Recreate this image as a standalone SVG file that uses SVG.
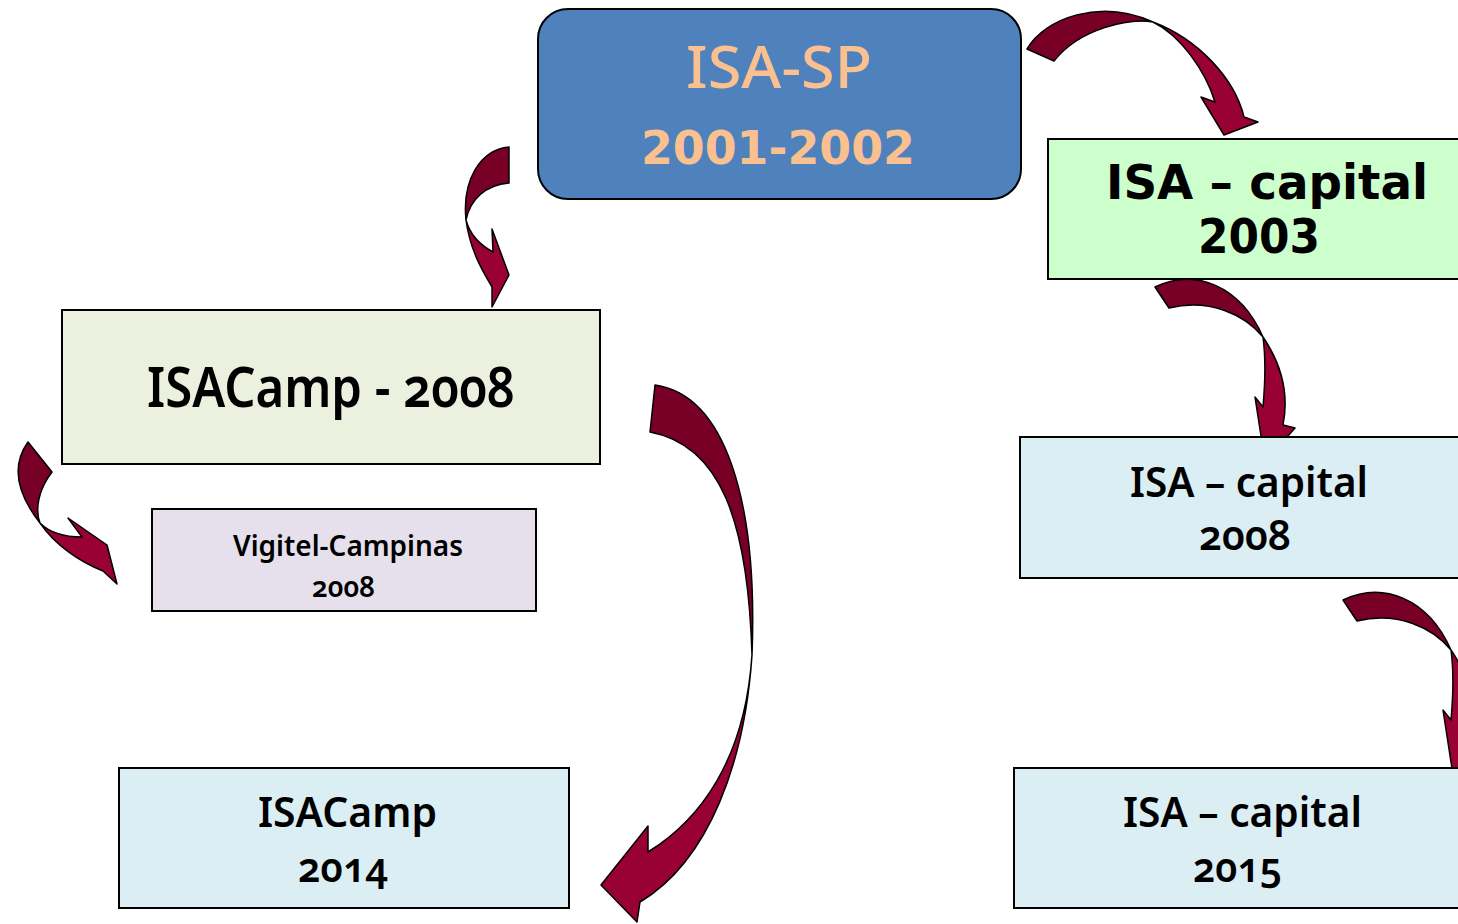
<svg xmlns="http://www.w3.org/2000/svg" width="1458" height="924" viewBox="0 0 1458 924">
<style>
.box{stroke:#000;stroke-width:2}
.arr{stroke:#000;stroke-width:1.5;stroke-linejoin:round}
.cal{font-family:"Noto Sans","Open Sans",sans-serif;font-weight:600;fill:#000;text-anchor:middle;font-variant-numeric:oldstyle-nums}
.ver{font-family:"DejaVu Sans",Verdana,sans-serif;font-weight:bold;text-anchor:middle}
</style>
<defs>
<linearGradient id="g1" gradientUnits="userSpaceOnUse" x1="1027" y1="0" x2="1258" y2="0">
<stop offset="0" stop-color="#780027"/><stop offset="0.545" stop-color="#780027"/><stop offset="0.545" stop-color="#990033"/><stop offset="1" stop-color="#990033"/>
</linearGradient>
<linearGradient id="g2" gradientUnits="userSpaceOnUse" x1="0" y1="147" x2="0" y2="307">
<stop offset="0" stop-color="#780027"/><stop offset="0.46" stop-color="#780027"/><stop offset="0.46" stop-color="#990033"/><stop offset="1" stop-color="#990033"/>
</linearGradient>
<linearGradient id="g3" gradientUnits="userSpaceOnUse" x1="25" y1="513" x2="55" y2="533">
<stop offset="0" stop-color="#780027"/><stop offset="0.5" stop-color="#780027"/><stop offset="0.5" stop-color="#990033"/><stop offset="1" stop-color="#990033"/>
</linearGradient>
<linearGradient id="g4" gradientUnits="userSpaceOnUse" x1="0" y1="385" x2="0" y2="922">
<stop offset="0" stop-color="#780027"/><stop offset="0.503" stop-color="#780027"/><stop offset="0.503" stop-color="#990033"/><stop offset="1" stop-color="#990033"/>
</linearGradient>
<linearGradient id="g5" gradientUnits="userSpaceOnUse" x1="0" y1="277" x2="0" y2="462">
<stop offset="0" stop-color="#780027"/><stop offset="0.32" stop-color="#780027"/><stop offset="0.32" stop-color="#990033"/><stop offset="1" stop-color="#990033"/>
</linearGradient>
</defs>
<g id="connectors">
<path class="arr" fill="url(#g1)" d="M1027,49 C1045,18 1100,-2 1153,22 C1180,35 1205,70 1215,102 L1201,97 L1224,135 L1258,122 L1244,117 C1235,80 1200,40 1153,22 C1130,18 1080,28 1054,61 Z"/>
<path class="arr" fill="url(#g2)" d="M509,147 C480,150 462,180 466,220 C470,250 482,270 492,287 L492,307 L509,275 L492,229 L493,252 C480,245 470,235 466,220 C470,200 485,185 509,183 Z"/>
<path class="arr" fill="url(#g3)" d="M28,442 L52,472 C38,490 35,510 40,523 C50,533 65,537 82,537 L68,518 L107,545 L117,584 L103,571 C80,562 55,545 40,523 C22,500 8,470 28,442 Z"/>
<path class="arr" fill="url(#g4)" d="M655,385 C725,395 758,500 752,655 C745,760 700,820 648,852 L648,826 L601,885 L637,922 L640,902 C710,860 745,760 752,655 C748,520 720,445 650,432 Z"/>
<path class="arr" fill="url(#g5)" d="M1155,287 C1195,268 1240,285 1263,337 C1266,360 1265,385 1263,407 L1255,397 L1265,462 L1295,428 L1283,425 C1289,395 1282,365 1263,337 C1245,315 1210,298 1169,308 Z"/>
<path class="arr" fill="url(#g5)" transform="translate(188,313)" d="M1155,287 C1195,268 1240,285 1263,337 C1266,360 1265,385 1263,407 L1255,397 L1265,462 L1295,428 L1283,425 C1289,395 1282,365 1263,337 C1245,315 1210,298 1169,308 Z"/>
</g>
<g id="isa-sp">
<rect class="box" x="538" y="9" width="483" height="190" rx="30" fill="#4F81BD"/>
<text x="779" y="88" font-family="Noto Sans, sans-serif" font-size="58" font-weight="500" fill="#FAC090" text-anchor="middle" textLength="186" lengthAdjust="spacingAndGlyphs">ISA-SP</text>
<text class="ver" x="778" y="164" font-size="46" fill="#FAC090" textLength="274" lengthAdjust="spacingAndGlyphs">2001-2002</text>
</g>
<g id="isa-capital-2003">
<rect class="box" x="1048" y="139" width="420" height="140" fill="#CCFFCC"/>
<text class="ver" x="1267" y="199" font-size="48" fill="#000" textLength="322" lengthAdjust="spacingAndGlyphs">ISA – capital</text>
<text class="ver" x="1259" y="253" font-size="48" fill="#000" textLength="122" lengthAdjust="spacingAndGlyphs">2003</text>
</g>
<g id="isacamp-2008">
<rect class="box" x="62" y="310" width="538" height="154" fill="#EBF1DE"/>
<text class="cal" x="331" y="407" font-size="56" textLength="368" lengthAdjust="spacingAndGlyphs">ISACamp - 2008</text>
</g>
<g id="vigitel-campinas">
<rect class="box" x="152" y="509" width="384" height="102" fill="#E5E0EC"/>
<text class="cal" x="348" y="556" font-size="28" font-weight="500" textLength="230" lengthAdjust="spacingAndGlyphs">Vigitel-Campinas</text>
<text class="cal" x="343.5" y="597" font-size="28" font-weight="500" textLength="63" lengthAdjust="spacingAndGlyphs">2008</text>
</g>
<g id="isa-capital-2008">
<rect class="box" x="1020" y="437" width="448" height="141" fill="#DBEEF4"/>
<text class="cal" x="1249" y="497" font-size="42" textLength="238" lengthAdjust="spacingAndGlyphs">ISA – capital</text>
<text class="cal" x="1245" y="550" font-size="42" textLength="92" lengthAdjust="spacingAndGlyphs">2008</text>
</g>
<g id="isacamp-2014">
<rect class="box" x="119" y="768" width="450" height="140" fill="#DBEEF4"/>
<text class="cal" x="347.5" y="827" font-size="42" textLength="179" lengthAdjust="spacingAndGlyphs">ISACamp</text>
<text class="cal" x="343" y="882" font-size="42" textLength="90" lengthAdjust="spacingAndGlyphs">2014</text>
</g>
<g id="isa-capital-2015">
<rect class="box" x="1014" y="768" width="454" height="140" fill="#DBEEF4"/>
<text class="cal" x="1242.5" y="827" font-size="42" textLength="239" lengthAdjust="spacingAndGlyphs">ISA – capital</text>
<text class="cal" x="1237.5" y="882" font-size="42" textLength="89" lengthAdjust="spacingAndGlyphs">2015</text>
</g>
</svg>
